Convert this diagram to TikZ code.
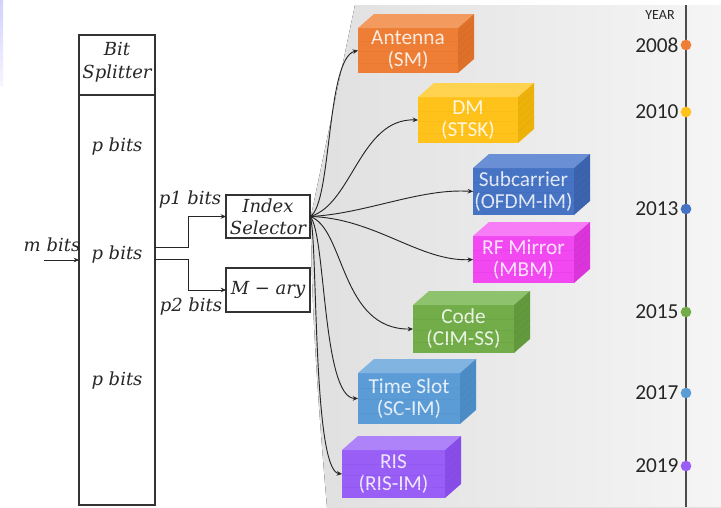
\documentclass[tikz,border=0pt]{standalone}
\usepackage{fontspec}
\setmainfont{Carlito}
\newfontfamily\eqfont{DejaVu Serif}
\usetikzlibrary{arrows.meta,calc}

% block colours: F = front, T = top, S = side
\definecolor{orgF}{HTML}{EE7E35}\definecolor{orgT}{HTML}{F39B5F}\definecolor{orgS}{HTML}{DE7029}
\definecolor{gldF}{HTML}{FFC21A}\definecolor{gldT}{HTML}{FFD24F}\definecolor{gldS}{HTML}{EDB20A}
\definecolor{bluF}{HTML}{4673C4}\definecolor{bluT}{HTML}{6A8FD4}\definecolor{bluS}{HTML}{3B63AE}
\definecolor{magF}{HTML}{F148F1}\definecolor{magT}{HTML}{F67DF6}\definecolor{magS}{HTML}{DA34DA}
\definecolor{grnF}{HTML}{72AD49}\definecolor{grnT}{HTML}{8FC26C}\definecolor{grnS}{HTML}{62993D}
\definecolor{skyF}{HTML}{5C9CD6}\definecolor{skyT}{HTML}{82B4E1}\definecolor{skyS}{HTML}{4C8CC6}
\definecolor{purF}{HTML}{985EF6}\definecolor{purT}{HTML}{AE82F8}\definecolor{purS}{HTML}{884DE8}
\definecolor{panelL}{HTML}{E0E0E0}\definecolor{panelR}{HTML}{F5F5F5}

\tikzset{
  frame/.style={draw=black!80, line width=0.9pt, inner sep=0pt, outer sep=0pt},
  eqtext/.style={font=\eqfont\itshape\fontsize{13.5}{17.5}\selectfont, text=black!85, inner sep=0pt, align=center},
  conn/.style={draw=black!85, line width=0.7pt, -{Stealth[length=4pt,width=3.5pt]}},
  cubeface/.style={inner sep=0pt, outer sep=0pt, align=center,
    font=\fontsize{16}{16.5}\selectfont},
  yeardot/.style={circle, inner sep=0pt, minimum size=8pt},
  yearlbl/.style={font=\fontsize{16}{17}\selectfont, text=black!85, inner sep=1.2pt},
}

% 3-D block: name, x, y (top left of front face), width, height, colour prefix, text
\newcommand\imcube[7]{%
  \node[cubeface, fill=#6F, text=white!85!#6F, anchor=north west,
        minimum width=#4*0.75pt, minimum height=#5*0.75pt] (#1) at (#2,#3) {#7};
  \fill[#6T] (#1.north west) -- ++(16,-14) -- ++(#4,0) -- (#1.north east) -- cycle;
  \fill[#6S] (#1.north east) -- ++(16,-14) -- ++(0,#5) -- (#1.south east) -- cycle;
  \foreach \t in {0.15,0.3,...,0.9}
    \draw[#6S!80!black, line width=0.3pt, opacity=0.25]
      ($(#1.north east)!\t!(#1.south east)$) -- ++(16,-14);
  \foreach \t in {0.3,0.52,0.78}
    \draw[#6S, line width=0.4pt, opacity=0.3]
      ($(#1.north west)!\t!(#1.south west)$) -- ($(#1.north east)!\t!(#1.south east)$);
}

\begin{document}
\begin{tikzpicture}[x=0.75pt, y=-0.75pt]
\useasboundingbox (0,0) rectangle (721,507);

% faint strip at the upper left edge
\fill[top color=black!6!blue!18, bottom color=blue!4] (0,0) rectangle (3,85);

% shaded panel behind the index domains
\fill[left color=panelL, right color=panelR]
  (355,5) -- (721,5) -- (721,507) -- (327,507)
  .. controls (316,380) and (311,290) .. (311,216) -- cycle;

% bit splitter
\node[frame, anchor=north west, minimum width=76*0.75pt, minimum height=470*0.75pt] (split) at (79,35) {};
\draw[draw=black!80, line width=0.9pt] (split.north west |- 0,95) coordinate (divl) -- (divl -| split.east);
\node[eqtext] (bitlbl) at (117,62) {Bit\\Splitter};
\node[eqtext] (pb1) at (117,147) {p bits};
\node[eqtext] (pb2) at (117,255) {p bits};
\node[eqtext] (pb3) at (117,381) {p bits};

% input
\coordinate (min) at (44,260);
\draw[conn] (min) -- (min -| split.west);
\node[eqtext] (mlbl) at (52,245) {m bits};

% index selector and M-ary mapper
\node[frame, anchor=north west, minimum width=84*0.75pt, minimum height=43*0.75pt] (idx) at (226,195) {};
\node[eqtext, font=\eqfont\itshape\fontsize{13.5}{16.5}\selectfont] (idxlbl) at (idx.center) {Index\\Selector};
\node[frame, anchor=north west, minimum width=84*0.75pt, minimum height=44*0.75pt] (mary) at (226,268) {};
\node[eqtext] (marylbl) at (mary.center) {M − ary};

\draw[conn] (split.east |- 0,247) -- (188,247) |- (idx.west);
\draw[conn] (split.east |- 0,259) -- (188,259) |- (mary.west);
\node[eqtext] (p1lbl) at (190,200) {p1 bits};
\node[eqtext] (p2lbl) at (191,307) {p2 bits};

% index domains
\imcube{ant}{358}{28}{100}{45}{org}{Antenna\\(SM)}
\imcube{dm}{418}{97}{100}{46}{gld}{DM\\(STSK)}
\imcube{sub}{473}{168}{101}{47}{blu}{Subcarrier\\(OFDM-IM)}
\imcube{rfm}{473}{236}{101}{47}{mag}{RF Mirror\\(MBM)}
\imcube{code}{413}{305}{101}{48}{grn}{Code\\(CIM-SS)}
\imcube{slot}{358}{373}{102}{51}{sky}{Time Slot\\(SC-IM)}
\imcube{ris}{342}{450}{103}{48}{pur}{RIS\\(RIS-IM)}

% selector outputs
\draw[conn] (idx.east) .. controls (332,205) and (326,58) .. (ant.west);
\draw[conn] (idx.east) .. controls (352,205) and (360,118) .. (dm.west);
\draw[conn] (idx.east) .. controls (365,214) and (420,188) .. (sub.west);
\draw[conn] (idx.east) .. controls (375,218) and (420,262) .. (rfm.west);
\draw[conn] (idx.east) .. controls (345,228) and (340,330) .. (code.west);
\draw[conn] (idx.east) .. controls (326,232) and (322,398) .. (slot.west);
\draw[conn] (idx.east) .. controls (318,232) and (312,470) .. (ris.west);

% timeline
\coordinate (ttop) at (686,5);
\coordinate (tbot) at (686,507);
\draw[black!70, line width=0.9pt] (ttop) -- (tbot);
\node[font=\fontsize{10.5}{12}\selectfont, text=black!85] (yearhd) at (660,15) {YEAR};
\node[yeardot, fill=orgF] (y08) at (686,45) {};
\node[yeardot, fill=gldF] (y10) at (686,112) {};
\node[yeardot, fill=bluF] (y13) at (686,209) {};
\node[yeardot, fill=grnF] (y15) at (686,312) {};
\node[yeardot, fill=skyF] (y17) at (686,393) {};
\node[yeardot, fill=purF] (y19) at (686,466) {};
\node[yearlbl, anchor=east] (l08) at (y08.west) {2008};
\node[yearlbl, anchor=east] (l10) at (y10.west) {2010};
\node[yearlbl, anchor=east] (l13) at (y13.west) {2013};
\node[yearlbl, anchor=east] (l15) at (y15.west) {2015};
\node[yearlbl, anchor=east] (l17) at (y17.west) {2017};
\node[yearlbl, anchor=east] (l19) at (y19.west) {2019};
\end{tikzpicture}
\end{document}
